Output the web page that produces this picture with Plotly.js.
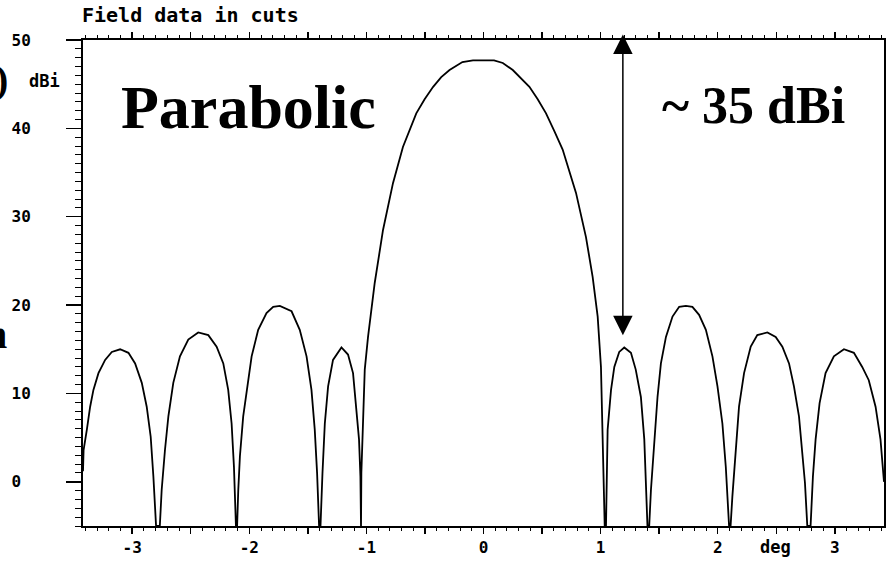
<!DOCTYPE html>
<html>
<head>
<meta charset="utf-8">
<script src="https://cdn.plot.ly/plotly-3.0.1.min.js"></script>
<style>
  html, body { margin: 0; padding: 0; background: #ffffff; }
  #chart { width: 886px; height: 563px; }
</style>
</head>
<body>
<div id="chart"></div>
<script>
const angleDeg = [
  -3.42, -3.415, -3.387, -3.359, -3.331, -3.288, -3.231, -3.174, -3.103, -3.032,
  -2.975, -2.918, -2.876, -2.842, -2.819, -2.796,
  -2.764, -2.748, -2.72, -2.691, -2.649, -2.592, -2.521, -2.436, -2.35, -2.279,
  -2.222, -2.18, -2.151, -2.131, -2.114,
  -2.104, -2.094, -2.08, -2.052, -2.023, -1.98, -1.924, -1.853, -1.796, -1.739,
  -1.639, -1.569, -1.511, -1.469, -1.441, -1.421, -1.404,
  -1.392, -1.375, -1.355, -1.327, -1.285, -1.213, -1.157, -1.114, -1.085, -1.063,
  -1.051, -1.05,
  -1.046, -1.043, -1.029, -1.014, -0.986, -0.929, -0.858, -0.773, -0.688, -0.631,
  -0.574, -0.503, -0.43, -0.361, -0.29, -0.18, -0.09, 0.09, 0.165, 0.25,
  0.321, 0.392, 0.463, 0.534, 0.605, 0.676,
  0.79, 0.875, 0.932, 0.975, 1.003, 1.017, 1.035,
  1.046, 1.06, 1.089, 1.117, 1.159, 1.202, 1.259, 1.30, 1.344, 1.373, 1.40,
  1.415, 1.43, 1.458, 1.486, 1.515, 1.558, 1.614, 1.671, 1.728, 1.784,
  1.841, 1.899, 1.955, 1.998, 2.04, 2.069, 2.097,
  2.11, 2.125, 2.154, 2.182, 2.225, 2.282, 2.338, 2.424, 2.495, 2.552,
  2.609, 2.651, 2.694, 2.722, 2.745, 2.765,
  2.793, 2.813, 2.836, 2.87, 2.921, 2.992, 3.078, 3.163, 3.234, 3.29,
  3.348, 3.39, 3.405, 3.42
];
const gainDbi = [
  1.2, 3.6, 5.9, 8.5, 10.4, 12.3, 13.8, 14.7, 15.0, 14.6,
  13.4, 11.2, 8.5, 5.1, 0.6, -5,
  -5, -0.9, 3.6, 7.4, 11.2, 14.2, 16.1, 16.9, 16.6, 15.3,
  13.4, 10.4, 6.6, 1.7, -5,
  -5, -0.9, 2.9, 7.4, 10.4, 14.2, 17.2, 19.1, 19.8, 19.9,
  19.3, 17.2, 14.2, 10.4, 5.9, 1.0, -5,
  -5, 1.0, 6.6, 10.8, 13.8, 15.2, 14.4, 12.3, 8.5, 4.8,
  0.6, -5,
  -5, 1.0, 8.1, 12.7, 16.4, 22.5, 28.5, 33.8, 37.9, 39.9,
  41.7, 43.3, 44.7, 45.8, 46.6, 47.5, 47.7, 47.7, 47.4, 46.6,
  45.7, 44.7, 43.3, 41.7, 39.7, 37.6,
  32.7, 27.7, 23.2, 18.7, 13.0, 5.9, -5,
  -5, 5.9, 10.4, 13.0, 14.7, 15.2, 14.6, 12.7, 9.6, 4.8, -5,
  -5, -0.9, 4.8, 9.6, 13.4, 16.4, 18.7, 19.8, 19.9, 19.8,
  18.9, 17.2, 14.2, 10.8, 6.6, 1.7, -5,
  -5, -1.7, 3.6, 8.5, 12.3, 15.3, 16.6, 16.9, 16.4, 15.3,
  13.4, 10.8, 7.4, 3.6, -0.1, -5,
  -5, 0.6, 4.8, 8.9, 12.3, 14.2, 15.0, 14.6, 13.0, 11.5,
  8.5, 4.8, 2.5, 0.0
];

const xTickVals = [-3, -2.5, -2, -1.5, -1, -0.5, 0, 0.5, 1, 1.5, 2, 2.5, 3];
const xTickText = ['-3', '', '-2', '', '-1', '', '0', '', '1', '', '2', '', '3'];
const yTickVals = [0, 10, 20, 30, 40, 50];
const yTickText = ['0\u00a0', '10', '20', '30', '40', '50'];

const titleText = 'Field data in cuts';
const yUnit = 'dBi';
const xUnit = 'deg';
const antennaLabel = 'Parabolic';
const gainLabel = '~ 35 dBi';
// gain-difference arrow: angle and its two ends (dBi)
const arrowAngle = [1.19];
const arrowEnds = [16.6, 50.8];

const mono = 'DejaVu Sans Mono, monospace';
const serif = 'Liberation Serif, Times New Roman, serif';

const W = 886, H = 563;
const M = { l: 83, r: 2, t: 40, b: 37 };
const pw = W - M.l - M.r, ph = H - M.t - M.b;
const px2paperX = (px) => (px - M.l) / pw;
const px2paperY = (py) => (H - M.b - py) / ph;

const trace = {
  x: angleDeg,
  y: gainDbi,
  type: 'scatter',
  mode: 'lines',
  line: { color: '#000000', width: 1.8 },
  hoverinfo: 'skip'
};

const layout = {
  width: W,
  height: H,
  margin: M,
  paper_bgcolor: '#ffffff',
  plot_bgcolor: '#ffffff',
  showlegend: false,
  title: {
    text: titleText,
    xref: 'container', yref: 'container',
    x: 82 / W, xanchor: 'left',
    y: 1 - 15 / H, yanchor: 'middle',
    font: { family: mono, size: 20, weight: 'bold', color: '#000' }
  },
  xaxis: {
    range: [-3.42, 3.42],
    tickmode: 'array',
    tickvals: xTickVals,
    ticktext: xTickText,
    ticks: 'outside',
    ticklen: 6,
    tickwidth: 1.5,
    tickcolor: '#000',
    showline: true,
    linecolor: '#000',
    linewidth: 2,
    mirror: 'ticks',
    showgrid: false,
    zeroline: false,
    ticklabelstandoff: 0,
    tickfont: { family: mono, size: 16, weight: 'bold', color: '#000' },
    minor: { dtick: 0.1, tick0: 0, ticks: 'outside', ticklen: 3, tickwidth: 1, tickcolor: '#000', showgrid: false },
    fixedrange: true
  },
  yaxis: {
    range: [-5, 50],
    tickmode: 'array',
    tickvals: yTickVals,
    ticktext: yTickText,
    ticks: 'outside',
    ticklen: 15,
    tickwidth: 1.5,
    tickcolor: '#000',
    showline: true,
    linecolor: '#000',
    linewidth: 2,
    mirror: true,
    showgrid: false,
    zeroline: false,
    ticklabelstandoff: 32,
    tickfont: { family: mono, size: 16, weight: 'bold', color: '#000' },
    minor: { dtick: 1, tick0: 0, ticks: 'outside', ticklen: 6, tickwidth: 1, tickcolor: '#000', showgrid: false },
    fixedrange: true
  },
  annotations: [
    {
      text: yUnit, xref: 'paper', yref: 'paper',
      x: px2paperX(44), y: px2paperY(81), xanchor: 'center', yanchor: 'middle',
      showarrow: false,
      font: { family: mono, size: 17, weight: 'bold', color: '#000' }
    },
    {
      text: xUnit, xref: 'paper', yref: 'paper',
      x: px2paperX(775), y: px2paperY(547), xanchor: 'center', yanchor: 'middle',
      showarrow: false,
      font: { family: mono, size: 17, weight: 'bold', color: '#000' }
    },
    {
      text: antennaLabel, xref: 'paper', yref: 'paper',
      x: px2paperX(248), y: px2paperY(107), xanchor: 'center', yanchor: 'middle',
      showarrow: false,
      font: { family: serif, size: 62, weight: 'bold', color: '#000' }
    },
    {
      text: gainLabel, xref: 'paper', yref: 'paper',
      x: px2paperX(753), y: px2paperY(105), xanchor: 'center', yanchor: 'middle',
      showarrow: false,
      font: { family: serif, size: 52, weight: 'bold', color: '#000' }
    },
    {
      text: ')', xref: 'paper', yref: 'paper',
      x: px2paperX(10), y: px2paperY(80), xanchor: 'right', yanchor: 'middle',
      showarrow: false,
      font: { family: serif, size: 40, weight: 'bold', color: '#000' }
    },
    {
      text: 'n', xref: 'paper', yref: 'paper',
      x: px2paperX(9), y: px2paperY(334), xanchor: 'right', yanchor: 'middle',
      showarrow: false,
      font: { family: serif, size: 40, weight: 'bold', color: '#000' }
    },
    {
      text: '', xref: 'x', yref: 'y',
      x: arrowAngle[0], y: arrowEnds[0],
      axref: 'x', ayref: 'y',
      ax: arrowAngle[0], ay: arrowEnds[1],
      showarrow: true,
      arrowside: 'end+start',
      arrowhead: 2, startarrowhead: 2,
      arrowsize: 2.6, startarrowsize: 2.6,
      arrowwidth: 1.5,
      arrowcolor: '#000',
      standoff: 0, startstandoff: 0
    }
  ]
};

Plotly.newPlot('chart', [trace], layout, { staticPlot: true, displayModeBar: false });
</script>
</body>
</html>
